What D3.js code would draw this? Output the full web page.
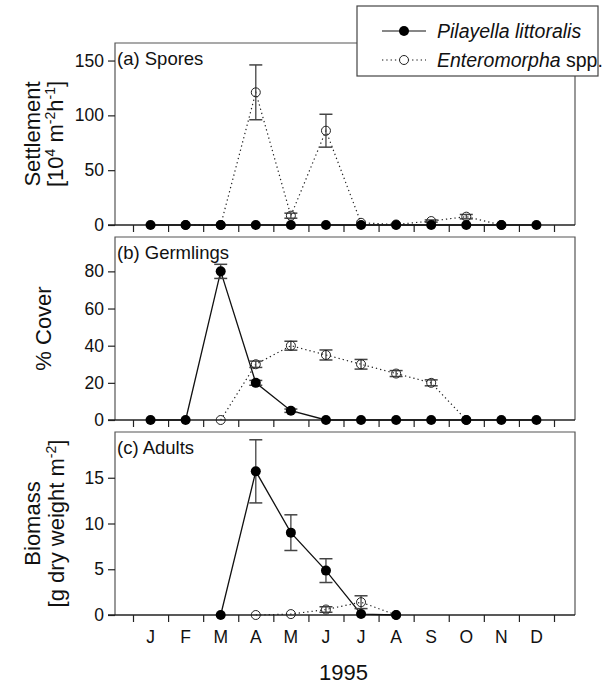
<!DOCTYPE html>
<html><head><meta charset="utf-8">
<script src="https://cdn.jsdelivr.net/npm/d3@7"></script>
<style>
body{margin:0;background:#fff}
text{font-family:"Liberation Sans",Arial,Helvetica,sans-serif;fill:#111}
</style></head>
<body><svg id="chart" width="603" height="684"></svg>
<script>
// ---------------- data ----------------
const months = ["J","F","M","A","M","J","J","A","S","O","N","D"];
const xTitle = "1995";

const sporesPil    = [0,0,0,0,0,0,0,0,0,0,0,0];
const sporesPilErr = [0,0,0,0,0,0,0,0,0,0,0,0];
const sporesEnt    = [null,0,0,121,8.5,86,2,0.5,3.6,7.6,0,null];
const sporesEntErr = [null,0,0,25,2.3,15,0.8,0,1,2,0,null];
const sporesTicks  = [0,50,100,150];

const germPil    = [0,0,80,20,5,0,0,0,0,0,0,0];
const germPilErr = [0,0,3.8,1.3,0.9,0,0,0,0,0,0,0];
const germEnt    = [null,null,0,30,40,35,30,25,20,0,null,null];
const germEntErr = [null,null,0,1.7,2.4,2.7,2.6,1.6,1.6,0,null,null];
const germTicks  = [0,20,40,60,80];

const adultPil    = [null,null,0,15.7,9,4.85,0.1,0,null,null,null,null];
const adultPilErr = [null,null,0,3.45,1.95,1.3,0,0,null,null,null,null];
const adultEnt    = [null,null,null,0,0.1,0.6,1.4,0,null,null,null,null];
const adultEntErr = [null,null,null,0,0.05,0.3,0.7,0,null,null,null,null];
const adultTicks  = [0,5,10,15];

const seriesNames = ["Pilayella littoralis","Enteromorpha"];

// ---------------- layout ----------------
const svg = d3.select("#chart");
const fLeft = 115, fRight = 575;
const x = d3.scaleLinear().domain([0,12]).range([133,554]);
const xc = i => x(i + 0.5);

const panels = [
  {label:"(a) Spores", top:43, bottom:225, max:166, ticks:sporesTicks,
   pil:sporesPil, pilErr:sporesPilErr, ent:sporesEnt, entErr:sporesEntErr},
  {label:"(b) Germlings", top:237, bottom:420, max:98.5, ticks:germTicks,
   pil:germPil, pilErr:germPilErr, ent:germEnt, entErr:germEntErr},
  {label:"(c) Adults", top:432, bottom:615, max:20, ticks:adultTicks,
   pil:adultPil, pilErr:adultPilErr, ent:adultEnt, entErr:adultEntErr}
];

panels.forEach((p, pi) => {
  const y = d3.scaleLinear().domain([0,p.max]).range([p.bottom,p.top]);
  const g = svg.append("g");

  g.append("path")
    .attr("d", `M${fLeft},${p.bottom}V${p.top}H${fRight}V${p.bottom}`)
    .attr("fill","none").attr("stroke","#555").attr("stroke-width",1.2);

  const ya = g.append("g").attr("transform",`translate(${fLeft},0)`)
    .call(d3.axisLeft(y).tickValues(p.ticks).tickSize(7).tickPadding(4).tickSizeOuter(0));
  ya.select(".domain").remove();
  ya.selectAll(".tick line").attr("stroke","#222").attr("stroke-width",1.2);
  ya.selectAll(".tick text").attr("font-size",17.5).attr("fill","#111")
    .attr("font-family",'"Liberation Sans",Arial,sans-serif');

  g.append("line").attr("x1",fLeft-7).attr("x2",fRight)
    .attr("y1",p.bottom).attr("y2",p.bottom)
    .attr("stroke","#222").attr("stroke-width",1.3);
  const xa = g.append("g").attr("transform",`translate(0,${p.bottom})`)
    .call(d3.axisBottom(x).tickValues(d3.range(13)).tickSize(7).tickFormat(""));
  xa.select(".domain").remove();
  xa.selectAll(".tick line").attr("stroke","#222").attr("stroke-width",1.2);

  g.append("text").attr("x",fLeft+2).attr("y",p.top+22)
    .attr("font-size",18.5).text(p.label);

  const pil = p.pil.map((v,i)=>({i,v,e:p.pilErr[i]}));
  const ent = p.ent.map((v,i)=>({i,v,e:p.entErr[i]}));
  const line = d3.line().defined(d=>d.v!=null).x(d=>xc(d.i)).y(d=>y(d.v));

  g.append("path").datum(ent).attr("d",line)
    .attr("fill","none").attr("stroke","#222").attr("stroke-width",1.2)
    .attr("stroke-dasharray","1.3,3");
  g.append("path").datum(pil).attr("d",line)
    .attr("fill","none").attr("stroke","#111").attr("stroke-width",1.3);

  function errBars(data){
    const eb = g.append("g").selectAll("g")
      .data(data.filter(d=>d.v!=null && d.e>0 && y(d.v-d.e)-y(d.v+d.e)>2)).join("g");
    eb.append("line").attr("x1",d=>xc(d.i)).attr("x2",d=>xc(d.i))
      .attr("y1",d=>y(d.v+d.e)).attr("y2",d=>y(Math.max(0,d.v-d.e)))
      .attr("stroke","#444").attr("stroke-width",1.3);
    eb.append("line").attr("x1",d=>xc(d.i)-6.5).attr("x2",d=>xc(d.i)+6.5)
      .attr("y1",d=>y(d.v+d.e)).attr("y2",d=>y(d.v+d.e))
      .attr("stroke","#444").attr("stroke-width",1.5);
    eb.append("line").attr("x1",d=>xc(d.i)-6.5).attr("x2",d=>xc(d.i)+6.5)
      .attr("y1",d=>y(Math.max(0,d.v-d.e))).attr("y2",d=>y(Math.max(0,d.v-d.e)))
      .attr("stroke","#444").attr("stroke-width",1.5);
  }
  errBars(ent);
  errBars(pil);

  g.append("g").selectAll("circle").data(ent.filter(d=>d.v!=null)).join("circle")
    .attr("cx",d=>xc(d.i)).attr("cy",d=>y(d.v)).attr("r",4.5)
    .attr("fill","none").attr("stroke","#222").attr("stroke-width",1);
  g.append("g").selectAll("circle").data(pil.filter(d=>d.v!=null)).join("circle")
    .attr("cx",d=>xc(d.i)).attr("cy",d=>y(d.v)).attr("r",5)
    .attr("fill","#000");

  const cy = (p.top+p.bottom)/2;
  if (pi===0){
    g.append("text").attr("transform",`translate(40,${cy}) rotate(-90)`)
      .attr("text-anchor","middle").attr("font-size",22).text("Settlement");
    const t2 = g.append("text").attr("transform",`translate(63,${cy}) rotate(-90)`)
      .attr("text-anchor","middle").attr("font-size",22);
    t2.append("tspan").text("[10");
    t2.append("tspan").attr("dy",-8).attr("font-size",14).text("4");
    t2.append("tspan").attr("dy",8).text(" m");
    t2.append("tspan").attr("dy",-8).attr("font-size",14).text("-2");
    t2.append("tspan").attr("dy",8).text("h");
    t2.append("tspan").attr("dy",-8).attr("font-size",14).text("-1");
    t2.append("tspan").attr("dy",8).text("]");
  } else if (pi===1){
    g.append("text").attr("transform",`translate(51,${cy}) rotate(-90)`)
      .attr("text-anchor","middle").attr("font-size",22).text("% Cover");
  } else {
    g.append("text").attr("transform",`translate(40,${cy}) rotate(-90)`)
      .attr("text-anchor","middle").attr("font-size",22).text("Biomass");
    const t3 = g.append("text").attr("transform",`translate(64,${cy}) rotate(-90)`)
      .attr("text-anchor","middle").attr("font-size",22);
    t3.append("tspan").text("[g dry weight m");
    t3.append("tspan").attr("dy",-8).attr("font-size",14).text("-2");
    t3.append("tspan").attr("dy",8).text("]");
  }
});

svg.append("g").selectAll("text").data(months).join("text")
  .attr("x",(d,i)=>xc(i)).attr("y",643).attr("text-anchor","middle")
  .attr("font-size",17.5).text(d=>d);
svg.append("text").attr("x",x(6)).attr("y",680).attr("text-anchor","middle")
  .attr("font-size",22).text(xTitle);

const lg = svg.append("g");
lg.append("rect").attr("x",357).attr("y",6).attr("width",241).attr("height",70)
  .attr("fill","#fff").attr("stroke","#444").attr("stroke-width",1.2);
const rows = [{y:31, dash:null, open:false, r:5},{y:60, dash:"1.3,3", open:true, r:4.5}];
rows.forEach((r,k)=>{
  lg.append("line").attr("x1",382).attr("x2",426).attr("y1",r.y).attr("y2",r.y)
    .attr("stroke","#111").attr("stroke-width",1.2).attr("stroke-dasharray",r.dash);
  lg.append("circle").attr("cx",404).attr("cy",r.y).attr("r",r.r)
    .attr("fill",r.open?"#fff":"#000").attr("stroke",r.open?"#222":null);
  const t = lg.append("text").attr("x",437).attr("y",r.y+7).attr("font-size",19.5);
  t.append("tspan").attr("font-style","italic").text(seriesNames[k]);
  if(k===1) t.append("tspan").text(" spp.");
});
</script></body></html>
